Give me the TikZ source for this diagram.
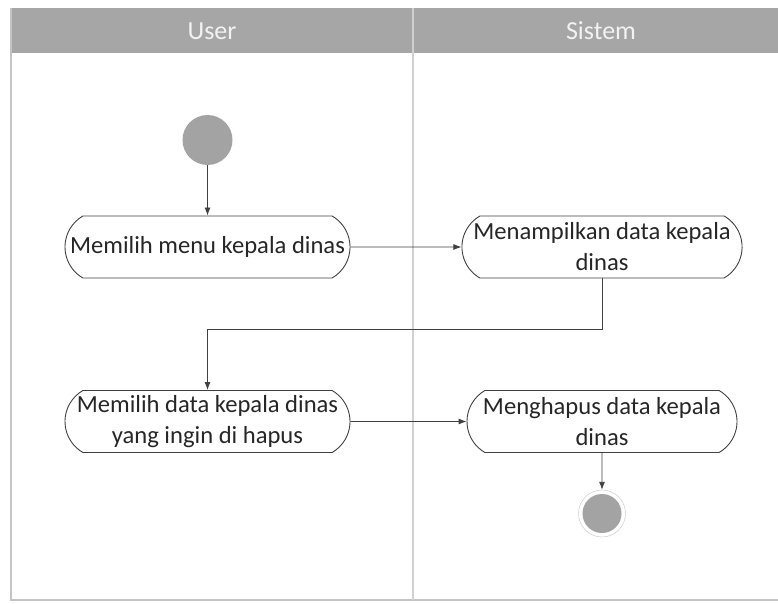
\documentclass[tikz,border=0pt]{standalone}
\usepackage{fontspec}
\setmainfont{Carlito}
\usetikzlibrary{shapes.misc,arrows.meta}
\definecolor{headgray}{HTML}{A6A6A6}
\definecolor{lanegray}{HTML}{C4C4C4}
\definecolor{dotgray}{HTML}{A3A3A3}
\definecolor{linegray}{HTML}{404040}

\begin{document}
\begin{tikzpicture}[x=1pt, y=-1pt, node distance={107pt},
		act/.style = {draw=linegray, line width=0.9pt, rounded rectangle, rounded rectangle arc length=120, minimum width=289pt, minimum height=62pt, inner sep=2pt, align=center, font=\fontsize{24.6}{31}\selectfont, text=black!85},
		lane/.style = {text=white!95!black, font=\fontsize{26}{30}\selectfont},
		flow/.style = {draw=linegray, line width=0.9pt, -{Latex[length=8pt,width=6pt]}}]
			\useasboundingbox (0,0) rectangle (778,604);
			\fill[headgray] (11,8) rectangle (778,53);
			\draw[lanegray, line width=1.2pt] (778,600) -- (11,600) -- (11,8);
			\draw[lanegray!80, line width=1.5pt] (413,8) -- (413,600);
			\node[lane] (user) at (212,31) {User};
			\node[lane] (sistem) at (601,31) {Sistem};
			\node[circle, fill=dotgray, minimum size=50pt] (1) at (207.5,140) {};
			\node[act] (2) [below of=1] {Memilih menu kepala dinas};
			\node[act, minimum width=274pt] (3) [right of=2, node distance=394.5pt] {Menampilkan data kepala\\dinas};
			\node[act] (4) [below of=2, node distance=174.5pt] {Memilih data kepala dinas\\yang ingin di hapus};
			\node[act, minimum width=274pt] (5) [right of=4, node distance=394.5pt] {Menghapus data kepala\\dinas};
			\node[circle, draw=lanegray, fill=white, minimum size=47pt, path picture={\fill[dotgray] (path picture bounding box.center) circle (19.5pt);}] (6) [below of=5, node distance=92pt] {};
			\draw[flow] (1) -- (2);
			\draw[flow] (2) -- (3);
			\draw[flow] (3.south) -- ++(0,51) -| (4.north);
			\draw[flow] (4) -- (5);
			\draw[flow] (5) -- (6);
		\end{tikzpicture}
\end{document}
